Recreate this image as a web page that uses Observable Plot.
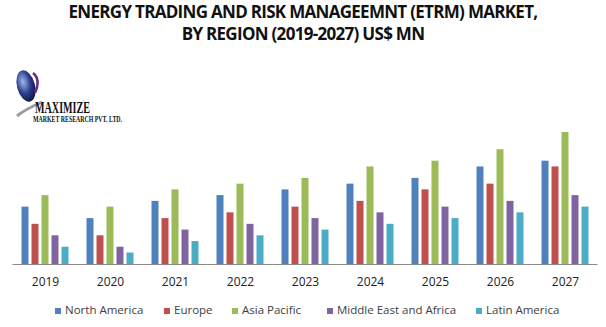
<!DOCTYPE html>
<html>
<head>
<meta charset="utf-8">
<script src="https://cdn.jsdelivr.net/npm/d3@7"></script>
<script src="https://cdn.jsdelivr.net/npm/@observablehq/plot@0.6"></script>
<style>
  html, body { margin: 0; padding: 0; background: #fff; }
  #wrap { position: relative; width: 606px; height: 327px; overflow: hidden; }
  .tl { position: absolute; left: 0; width: 606px; text-align: center; white-space: nowrap;
    font-family: "Open Sans", sans-serif; font-weight: 700; font-size: 17px; line-height: 24px;
    letter-spacing: -0.7px; color: #111; }
  #logo { position: absolute; left: 12px; top: 64px; width: 140px; height: 70px; }
  #chart { position: absolute; left: 0; top: 50px; }
  #legend { position: absolute; left: 0; top: 302px; width: 606px; height: 16px;
    font-family: "Open Sans", sans-serif; font-size: 11.5px; color: #404040; }
  .item { position: absolute; top: 0; white-space: nowrap; line-height: 16px; }
  .sw { display: inline-block; width: 6px; height: 6px; margin-right: 4px; vertical-align: 0px; }
</style>
</head>
<body>
<div id="wrap">
  <div class="tl" style="top:0px">ENERGY TRADING AND RISK MANAGEEMNT (ETRM) MARKET,</div>
  <div class="tl" style="top:22px">BY REGION (2019-2027) US$ MN</div>
  <svg id="logo" width="140" height="70" viewBox="0 0 140 70">
    <defs>
      <radialGradient id="g" cx="40%" cy="35%" r="70%">
        <stop offset="0%" stop-color="#9fb7e8"/>
        <stop offset="55%" stop-color="#2a3f8f"/>
        <stop offset="100%" stop-color="#0b1240"/>
      </radialGradient>
    </defs>
    <path d="M5 52 Q12 46 30 38" stroke="#9a9a9a" stroke-width="3" fill="none"/>
    <ellipse cx="14" cy="22" rx="9" ry="16" fill="url(#g)" transform="rotate(-15 14 22)"/>
    <path d="M21 9 Q29 15 23 29" stroke="#6a2a8a" stroke-width="2.5" fill="none"/>
    <text x="23" y="49" font-family="Liberation Serif, serif" font-weight="700" font-size="16" fill="#111" textLength="55" lengthAdjust="spacingAndGlyphs">MAXIMIZE</text>
    <text x="21" y="58" font-family="Liberation Serif, serif" font-weight="700" font-size="7.5" fill="#111" textLength="89" lengthAdjust="spacingAndGlyphs">MARKET RESEARCH PVT. LTD.</text>
  </svg>
  <div id="chart"></div>
  <div id="legend"></div>
</div>
<script>
const years = ["2019","2020","2021","2022","2023","2024","2025","2026","2027"];
const regions = ["North America","Europe","Asia Pacific","Middle East and Africa","Latin America"];
const colors = ["#4F81BD","#C0504D","#9BBB59","#8064A2","#4BACC6"];
const northAmerica = [10, 8, 11, 12, 13, 14, 15, 17, 18];
const europe       = [7, 5, 8, 9, 10, 11, 13, 14, 17];
const asiaPacific  = [12, 10, 13, 14, 15, 17, 18, 20, 23];
const middleEast   = [5, 3, 6, 7, 8, 9, 10, 11, 12];
const latinAmerica = [3, 2, 4, 5, 6, 7, 8, 9, 10];

const seriesValues = [northAmerica, europe, asiaPacific, middleEast, latinAmerica];
const data = [];
years.forEach((y, i) => regions.forEach((r, j) => data.push({year: y, region: r, value: seriesValues[j][i]})));

const W = 606, H = 250;
const mL = 8.5, mR = 5.4;
const fxPadInner = 0.26, fxPadOuter = 0.13;
const step = (W - mL - mR) / (years.length - fxPadInner + 2 * fxPadOuter);
const halfGap = step * fxPadInner / 2;

const chart = Plot.plot({
  width: W,
  height: H,
  marginLeft: mL,
  marginRight: mR,
  marginTop: 82,
  marginBottom: 36,
  style: {fontFamily: "'Open Sans', sans-serif", fontSize: "12px", color: "#222", background: "transparent"},
  fx: {domain: years, paddingInner: fxPadInner, paddingOuter: fxPadOuter, axis: "bottom", label: null, tickSize: 0, tickPadding: 13},
  x: {domain: regions, paddingInner: 0.33, paddingOuter: 0, axis: null},
  y: {domain: [0, d3.max(data, d => d.value)], axis: null},
  color: {domain: regions, range: colors},
  marks: [
    Plot.barY(data, {fx: "year", x: "region", y: "value", fill: "region"}),
    Plot.ruleY([0], {stroke: "#8a8a8a", strokeWidth: 1, insetLeft: -halfGap, insetRight: -halfGap})
  ]
});
document.getElementById("chart").appendChild(chart);

const legendPos = [55, 164, 232, 327, 476];
const legend = document.getElementById("legend");
regions.forEach((r, i) => {
  const it = document.createElement("div");
  it.className = "item";
  it.style.left = legendPos[i] + "px";
  it.innerHTML = `<span class="sw" style="background:${colors[i]}"></span>${r}`;
  legend.appendChild(it);
});
</script>
</body>
</html>
